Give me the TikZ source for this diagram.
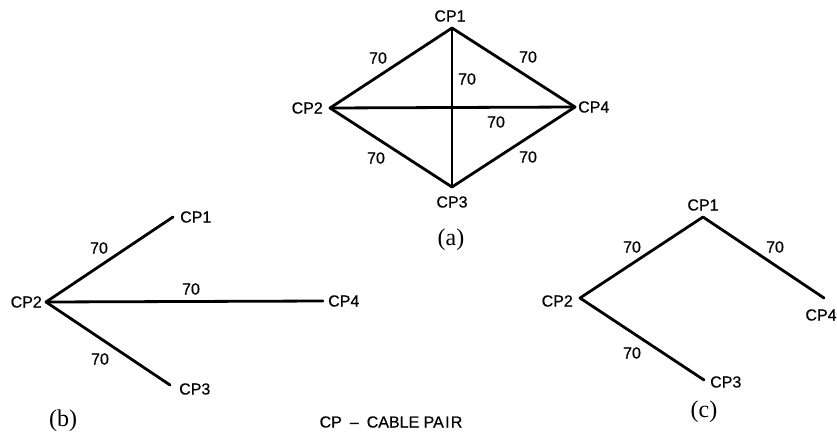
\documentclass[tikz,border=0pt]{standalone}
\usepackage{fontspec}
\setmainfont{Liberation Serif}
\newfontfamily\lblfont[FakeBold=0.6]{Liberation Sans}
\begin{document}
\begin{tikzpicture}[x=1pt,y=-1pt,
  edge/.style={line width=2.8pt,line cap=round,line join=round},
  cp/.style={font=\lblfont\fontsize{16}{16}\selectfont,inner sep=0pt},
  wt/.style={font=\lblfont\fontsize{16}{16}\selectfont,inner sep=0pt},
  figcap/.style={font=\fontsize{24}{24}\selectfont,inner sep=0pt}]
\useasboundingbox (0,0) rectangle (837,434);
% (a)
\coordinate (a1) at (452,28);
\coordinate (a2) at (330,108);
\coordinate (a4) at (575,107);
\coordinate (a3) at (452,187);
\draw[edge] (a1) -- (a2) -- (a3) -- (a4) -- cycle;
\draw[edge] (a1) -- (a3);
\draw[edge] (a2) -- (a4);
\node[cp] (ta1) at (450,16) {CP1};
\node[cp,anchor=east] (ta2) at (323,108) {CP2};
\node[cp,anchor=west] (ta4) at (578,107) {CP4};
\node[cp] (ta3) at (452,202) {CP3};
\node[wt] (wa12) at (378,58) {70};
\node[wt] (wa14) at (528,57) {70};
\node[wt] (wa13) at (467,79) {70};
\node[wt] (wa24) at (496,122) {70};
\node[wt] (wa23) at (376,158) {70};
\node[wt] (wa34) at (528,157) {70};
\node[figcap] (capa) at (451,240) {(a)};
% (b)
\coordinate (b2) at (46,302);
\coordinate (b1) at (173,217);
\coordinate (b4) at (323,301);
\coordinate (b3) at (170,385);
\draw[edge] (b2) -- (b1);
\draw[edge] (b2) -- (b4);
\draw[edge] (b2) -- (b3);
\node[cp,anchor=west] (tb1) at (180,217) {CP1};
\node[cp,anchor=east] (tb2) at (42,302) {CP2};
\node[cp,anchor=west] (tb4) at (328,301) {CP4};
\node[cp,anchor=west] (tb3) at (179,389) {CP3};
\node[wt] (wb1) at (99,248) {70};
\node[wt] (wb4) at (191,289) {70};
\node[wt] (wb3) at (100,359) {70};
\node[figcap] (capb) at (63,421) {(b)};
% legend
\node[cp] (legend) at (391,422) {CP\hspace{0.5em}\textendash\hspace{0.5em}CABLE PA\hspace{0.08em}I\hspace{0.08em}R};
% (c)
\coordinate (c1) at (703,217);
\coordinate (c2) at (580,298);
\coordinate (c4) at (824,298);
\coordinate (c3) at (704,380);
\draw[edge] (c4) -- (c1) -- (c2) -- (c3);
\node[cp] (tc1) at (703,205) {CP1};
\node[cp,anchor=east] (tc2) at (573,301) {CP2};
\node[cp] (tc4) at (821,315) {CP4};
\node[cp,anchor=west] (tc3) at (710,382) {CP3};
\node[wt] (wc12) at (632,247) {70};
\node[wt] (wc14) at (775,247) {70};
\node[wt] (wc23) at (632,353) {70};
\node[figcap] (capc) at (704,412) {(c)};
\end{tikzpicture}
\end{document}
